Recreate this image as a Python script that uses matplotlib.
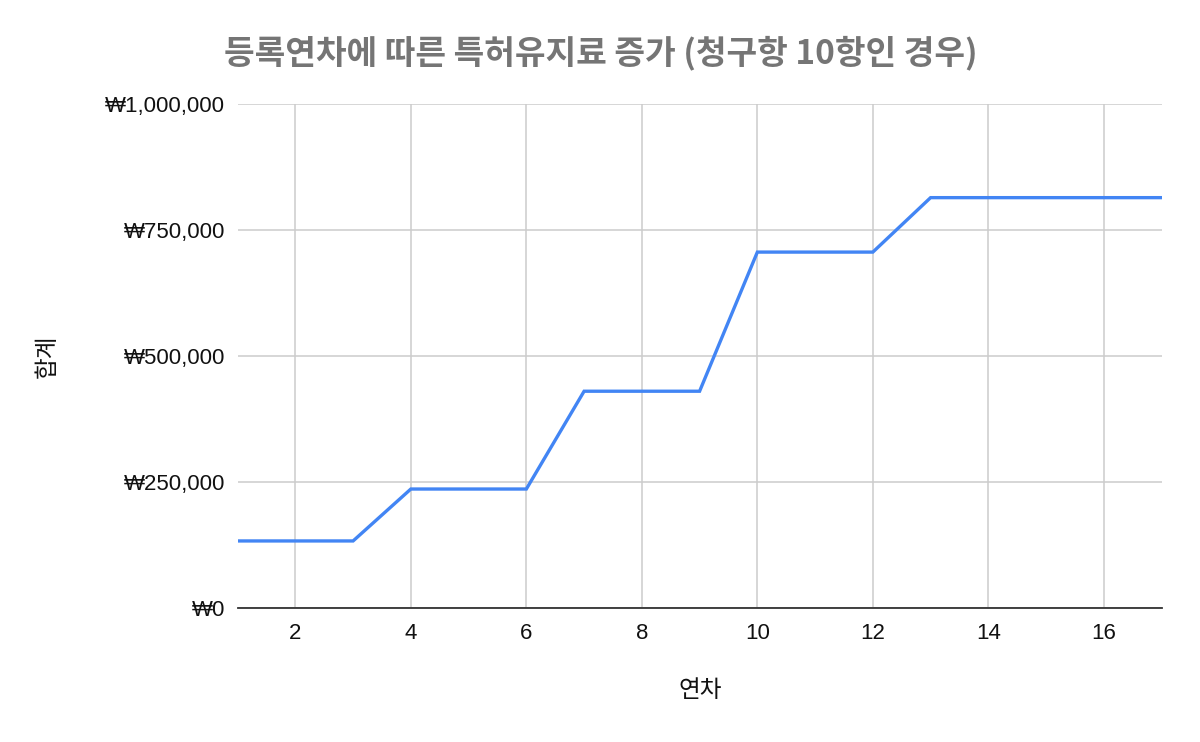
import matplotlib
matplotlib.use('Agg')
import matplotlib.pyplot as plt
from matplotlib.ticker import FuncFormatter, MultipleLocator

# 등록연차별 특허유지료 합계 (청구항 10항)
years = list(range(1, 18))
fees = [133000, 133000, 133000,
        236000, 236000, 236000,
        430000, 430000, 430000,
        706000, 706000, 706000,
        814000, 814000, 814000, 814000, 814000]

title = '등록연차에 따른 특허유지료 증가 (청구항 10항인 경우)'
x_label = '연차'
y_label = '합계'

fam = ['Liberation Sans', 'Noto Sans CJK KR', 'DejaVu Sans']
kr_fam = ['Noto Sans CJK KR', 'DejaVu Sans']
plt.rcParams['font.family'] = fam

fig = plt.figure(figsize=(12, 7.42), dpi=100)
ax = fig.add_axes([0.198, 0.1806, 0.770, 0.6794])

ax.plot(years, fees, color='#4285F4', linewidth=2.4, solid_joinstyle='miter')

ax.set_xlim(1, 17)
ax.set_ylim(0, 1000000)
ax.xaxis.set_major_locator(MultipleLocator(2))
ax.yaxis.set_major_locator(MultipleLocator(250000))
ax.yaxis.set_major_formatter(FuncFormatter(lambda v, p: '₩{:,.0f}'.format(v)))

ax.grid(True, color='#cccccc', linewidth=1.1)
ax.set_axisbelow(True)
for s in ['top', 'right', 'left']:
    ax.spines[s].set_visible(False)
ax.spines['bottom'].set_color('#333333')
ax.spines['bottom'].set_linewidth(1.3)
ax.spines['bottom'].set_zorder(3)

ax.tick_params(axis='both', length=0, labelsize=16, colors='#111111')
ax.tick_params(axis='x', pad=11)
ax.tick_params(axis='y', pad=9)

fig.text(0.501, 0.929, title, ha='center', va='center', fontsize=24,
         fontweight='bold', color='#757575', family=kr_fam)
fig.text(0.5833, 0.07, x_label, ha='center', va='center', fontsize=17,
         color='#111111', family=kr_fam)
fig.text(0.039, 0.52, y_label, ha='center', va='center', fontsize=17,
         color='#111111', rotation=90, family=kr_fam)

fig.savefig('out.png', dpi=100, facecolor='white')
